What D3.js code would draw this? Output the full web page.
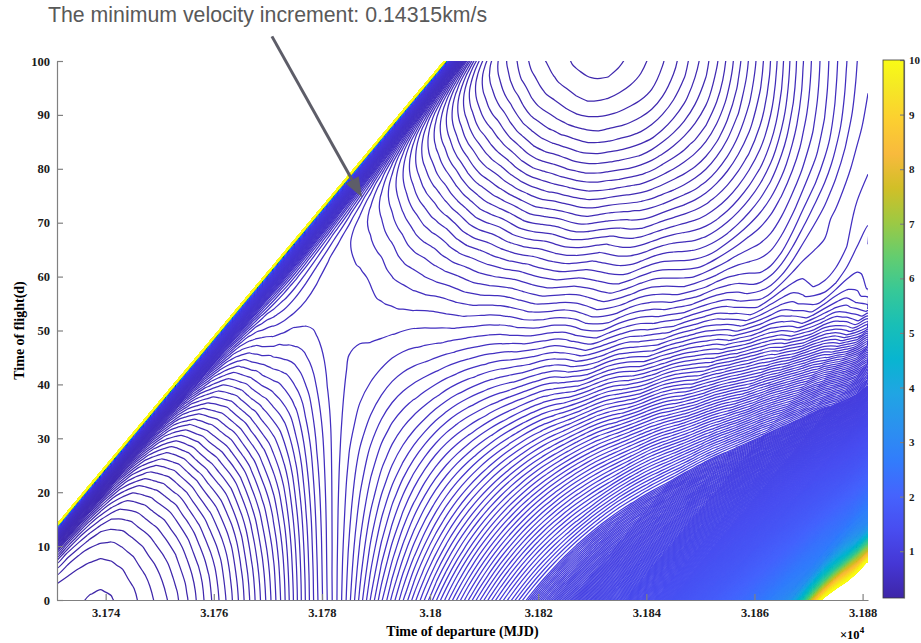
<!DOCTYPE html>
<html>
<head>
<meta charset="utf-8">
<script src="https://cdnjs.cloudflare.com/ajax/libs/d3/7.8.5/d3.min.js"></script>
<style>
  body { margin: 0; background: #fff; }
  svg text { font-family: "Liberation Serif", "Times New Roman", serif; font-weight: bold; }
  .axis path, .axis line { stroke: #808080; stroke-width: 1.2; }
  .axis text { fill: #1a1a1a; font-size: 12.5px; }
  .cbar text { font-size: 11px; }
</style>
</head>
<body>
<div id="chart"></div>
<script>
// departure epochs of the grid columns (MJD)
const depGrid = [31731, 31741, 31751, 31761, 31771, 31781, 31791, 31801,
  31811, 31821, 31831, 31841, 31851, 31861, 31871, 31881]

// grid rows: days of flight below the reachable edge (edge = row 0)
const tofBelowEdge = [0, 0.3, 0.6, 1.2, 2, 3.2, 5, 7.5, 11, 16, 23, 32, 43, 56, 70, 85,
  100, 115, 128, 140, 150, 159, 166, 172, 177, 181, 185, 188, 191, 194, 198]

// reachable edge: time of flight at the first departure, growth per day of departure
const edgeTof0 = 14
const edgeRate = 1.2

// velocity increment (km/s), one column per departure epoch
const dvByDeparture = [
  [10.68, 2.68, 1.177, 0.675, 0.472, 0.328, 0.232, 0.181, 0.155, 0.146, 0.150, 0.172, 0.224, 0.322, 0.47, 0.49, 0.51, 0.57, 0.76, 1.23, 2.44, 10.07, 12, 12, 12, 12, 12, 12, 12, 12, 12],
  [10.74, 2.739, 1.237, 0.733, 0.528, 0.380, 0.280, 0.222, 0.185, 0.162, 0.147, 0.144, 0.165, 0.227, 0.339, 0.486, 0.51, 0.565, 0.72, 1.12, 2.07, 6.47, 12, 12, 12, 12, 12, 12, 12, 12, 12],
  [10.85, 2.848, 1.345, 0.840, 0.633, 0.484, 0.379, 0.316, 0.272, 0.238, 0.206, 0.181, 0.172, 0.196, 0.261, 0.377, 0.50, 0.555, 0.69, 1.03, 1.77, 4.47, 12, 12, 12, 12, 12, 12, 12, 12, 12],
  [10.97, 2.967, 1.465, 0.959, 0.753, 0.602, 0.498, 0.433, 0.387, 0.349, 0.310, 0.271, 0.242, 0.235, 0.258, 0.32, 0.45, 0.545, 0.66, 0.94, 1.57, 3.37, 12, 12, 12, 12, 12, 12, 12, 12, 12],
  [10.98, 2.983, 1.483, 0.982, 0.781, 0.640, 0.548, 0.500, 0.476, 0.449, 0.417, 0.383, 0.353, 0.333, 0.330, 0.349, 0.415, 0.514, 0.64, 0.87, 1.40, 2.67, 7.97, 12, 12, 12, 12, 12, 12, 12, 12],
  [10.97, 2.972, 1.472, 0.972, 0.772, 0.632, 0.542, 0.497, 0.476, 0.471, 0.470, 0.466, 0.4615, 0.458, 0.456, 0.456, 0.478, 0.518, 0.61, 0.81, 1.25, 2.22, 5.37, 12, 12, 12, 12, 12, 12, 12, 12],
  [10.93, 2.927, 1.427, 0.928, 0.728, 0.590, 0.502, 0.459, 0.444, 0.446, 0.456, 0.467, 0.485, 0.513, 0.543, 0.580, 0.628, 0.689, 0.789, 0.985, 1.37, 2.19, 4.20, 12, 12, 12, 12, 12, 12, 12, 12],
  [10.84, 2.839, 1.340, 0.840, 0.641, 0.502, 0.415, 0.374, 0.363, 0.370, 0.390, 0.422, 0.460, 0.5065, 0.570, 0.641, 0.724, 0.821, 0.935, 1.14, 1.50, 2.18, 3.56, 8.54, 12, 12, 12, 12, 12, 12, 12],
  [10.77, 2.768, 1.268, 0.767, 0.566, 0.425, 0.335, 0.294, 0.276, 0.279, 0.298, 0.334, 0.391, 0.459, 0.540, 0.644, 0.763, 0.893, 1.03, 1.25, 1.57, 2.16, 3.18, 6.15, 12, 12, 12, 12, 12, 12, 12],
  [10.76, 2.756, 1.255, 0.753, 0.549, 0.405, 0.308, 0.262, 0.235, 0.224, 0.227, 0.248, 0.298, 0.379, 0.465, 0.592, 0.745, 0.908, 1.07, 1.30, 1.60, 2.13, 2.95, 4.86, 11.05, 12, 12, 12, 12, 12, 12],
  [10.81, 2.813, 1.311, 0.807, 0.601, 0.453, 0.352, 0.296, 0.260, 0.234, 0.215, 0.2085, 0.230, 0.292, 0.388, 0.482, 0.668, 0.865, 1.06, 1.30, 1.59, 2.05, 2.73, 4.06, 7.56, 12, 12, 12, 12, 12, 12],
  [10.91, 2.905, 1.403, 0.899, 0.693, 0.545, 0.442, 0.380, 0.338, 0.304, 0.268, 0.237, 0.225, 0.248, 0.316, 0.414, 0.537, 0.764, 0.983, 1.23, 1.52, 1.97, 2.56, 3.52, 5.62, 11.27, 12, 12, 12, 12, 12],
  [10.97, 2.970, 1.469, 0.968, 0.766, 0.622, 0.525, 0.468, 0.4295, 0.396, 0.357, 0.317, 0.281, 0.270, 0.295, 0.357, 0.4455, 0.608, 0.851, 1.12, 1.42, 1.83, 2.36, 3.13, 4.51, 7.68, 12, 12, 12, 12, 12],
  [10.97, 2.97, 1.47, 0.97, 0.77, 0.63, 0.54, 0.495, 0.475, 0.463, 0.4405, 0.407, 0.371, 0.345, 0.340, 0.361, 0.412, 0.480, 0.668, 0.949, 1.26, 1.65, 2.12, 2.76, 3.75, 5.63, 11.3, 12, 12, 12, 12],
  [10.97, 2.97, 1.47, 0.97, 0.77, 0.63, 0.54, 0.495, 0.475, 0.47, 0.47, 0.4625, 0.447, 0.430, 0.420, 0.419, 0.433, 0.472, 0.51, 0.731, 1.04, 1.42, 1.85, 2.42, 3.18, 6.5, 12, 12, 12, 12, 12],
  [10.97, 2.97, 1.47, 0.97, 0.77, 0.63, 0.54, 0.495, 0.475, 0.47, 0.47, 0.47, 0.47, 0.47, 0.47, 0.47, 0.475, 0.485, 0.50, 0.53, 0.783, 1.14, 1.55, 2.07, 2.70, 3.55, 7.5, 11.5, 12, 12, 12]
]

const dvMin = 0.14315
const dvMax = 10
const xTicks = [3.174, 3.176, 3.178, 3.18, 3.182, 3.184, 3.186, 3.188]
const yTicks = [0, 10, 20, 30, 40, 50, 60, 70, 80, 90, 100]
const cbTicks = [1, 2, 3, 4, 5, 6, 7, 8, 9, 10]

// where the annotation arrow points (departure /1e4, time of flight)
const noteDep = 3.17874
const noteTof = 74.7

// parula colour map
const parulaStops = ['#3e26a8', '#4537d5', '#484df0', '#4563fd', '#327cfc', '#2b91ef', '#20a5e3', '#08b5d0',
  '#19bfb6', '#37c897', '#64cd6f', '#9dc943', '#d1bf27', '#f8ba3d', '#fccf30', '#f5e924', '#f9fb15']
const stopPos = [0, 4, 8, 12, 16, 20, 24, 28, 32, 36, 40, 44, 48, 52, 56, 60, 63].map(i => i / 63)
const parula = d3.scaleLinear().domain(stopPos).range(parulaStops).clamp(true)
const color = v => parula((v - dvMin) / (dvMax - dvMin))

const svg = d3.select('#chart').append('svg')
  .attr('width', 921)
  .attr('height', 643)

const x = d3.scaleLinear()
  .domain([depGrid[0] / 1e4, depGrid[depGrid.length - 1] / 1e4])
  .range([57, 868])
const y = d3.scaleLinear().domain([0, 100]).range([600, 61])

const defs = svg.append('defs')
defs.append('clipPath').attr('id', 'plot-clip')
  .append('rect').attr('x', 57).attr('y', 61).attr('width', 811).attr('height', 539)

// smooth the grid for drawing (cubic convolution, like an interpolated contour)
const cubic = (p0, p1, p2, p3, t) =>
  p1 + 0.5 * t * (p2 - p0 + t * (2 * p0 - 5 * p1 + 4 * p2 - p3 + t * (3 * (p1 - p2) + p3 - p0)))

function refine(arr, k) {
  const n = arr.length, out = []
  const at = i => arr[Math.max(0, Math.min(n - 1, i))]
  for (let i = 0; i < n - 1; i++) {
    for (let s = 0; s < k; s++) out.push(cubic(at(i - 1), at(i), at(i + 1), at(i + 2), s / k))
  }
  out.push(arr[n - 1])
  return out
}

const FX = 5, FY = 3
const fineCols = dvByDeparture.map(col => refine(col, FY))
const nyF = fineCols[0].length
const nxF = (depGrid.length - 1) * FX + 1
const values = new Array(nxF * nyF)
for (let j = 0; j < nyF; j++) {
  const row = refine(fineCols.map(c => c[j]), FX)
  for (let i = 0; i < nxF; i++) values[j * nxF + i] = row[i]
}

const colToDep = d3.scaleLinear().domain(d3.range(depGrid.length)).range(depGrid).clamp(true)
const rowToGap = d3.scaleLinear().domain(d3.range(tofBelowEdge.length)).range(tofBelowEdge).clamp(true)

const toPixel = ([cx, cy]) => {
  const dep = colToDep((cx - 0.5) / FX)
  const tof = edgeTof0 + edgeRate * (dep - depGrid[0]) - rowToGap((cy - 0.5) / FY)
  return [x(dep / 1e4), y(tof)]
}

// cut away the parts of a ring that run along the grid border
const onBorder = p => p[0] <= 0 || p[0] >= nxF || p[1] <= 0 || p[1] >= nyF
function pieces(ring) {
  const pts = ring.slice(0, -1)
  const n = pts.length
  let start = -1
  for (let k = 0; k < n; k++) {
    if (onBorder(pts[k]) && onBorder(pts[(k + 1) % n])) { start = k + 1; break }
  }
  if (start < 0) return [{ closed: true, pts }]
  const out = []
  let cur = []
  for (let k = 0; k < n; k++) {
    const a = pts[(start + k) % n], b = pts[(start + k + 1) % n]
    if (onBorder(a) && onBorder(b)) {
      if (cur.length > 1) out.push({ closed: false, pts: cur })
      cur = []
    } else {
      if (!cur.length) cur.push(a)
      cur.push(b)
    }
  }
  if (cur.length > 1) out.push({ closed: false, pts: cur })
  return out
}

// contour levels: 0.01 apart, 0.005 apart in the steep high range
const levels = d3.range(0.145, 0.95, 0.01).concat(d3.range(0.95, dvMax, 0.005))
const contours = d3.contours().size([nxF, nyF]).thresholds(levels)(values)
const lineOpen = d3.line().curve(d3.curveCatmullRom.alpha(0.5))
const lineClosed = d3.line().curve(d3.curveCatmullRomClosed.alpha(0.5))
const fmt = p => [Math.round(p[0] * 10) / 10, Math.round(p[1] * 10) / 10]

svg.append('g')
  .attr('clip-path', 'url(#plot-clip)')
  .selectAll('path')
  .data(contours)
  .join('path')
  .attr('fill', 'none')
  .attr('stroke', d => color(d.value))
  .attr('stroke-width', 1.25)
  .attr('d', d => d.coordinates
    .flatMap(poly => poly.flatMap(pieces))
    .map(p => (p.closed ? lineClosed : lineOpen)(p.pts.map(q => fmt(toPixel(q)))) || '')
    .join(''))

// axes, ticks pointing inward
svg.append('g')
  .attr('class', 'axis')
  .attr('transform', 'translate(0,600)')
  .call(d3.axisBottom(x).tickValues(xTicks).tickFormat(d => d)
    .tickSize(-6).tickSizeOuter(0).tickPadding(8))

svg.append('g')
  .attr('class', 'axis')
  .attr('transform', 'translate(57,0)')
  .call(d3.axisLeft(y).tickValues(yTicks)
    .tickSize(-6).tickSizeOuter(0).tickPadding(7))

svg.append('text')
  .attr('x', 462.5).attr('y', 636)
  .attr('text-anchor', 'middle')
  .style('font-size', '14px')
  .text('Time of departure (MJD)')

const mult = svg.append('text')
  .attr('x', 840).attr('y', 639)
  .style('font-size', '12.5px')
mult.append('tspan').text('×10')
mult.append('tspan').attr('dy', -6).style('font-size', '9px').text('4')

svg.append('text')
  .attr('transform', 'translate(24,330.5) rotate(-90)')
  .attr('text-anchor', 'middle')
  .style('font-size', '14px')
  .text('Time of flight(d)')

// colour bar
const cbScale = d3.scaleLinear().domain([dvMin, dvMax]).range([598, 60])
const grad = defs.append('linearGradient').attr('id', 'parula')
  .attr('x1', 0).attr('y1', 1).attr('x2', 0).attr('y2', 0)
grad.selectAll('stop')
  .data(parulaStops)
  .join('stop')
  .attr('offset', (d, i) => stopPos[i])
  .attr('stop-color', d => d)

svg.append('rect')
  .attr('x', 883).attr('y', 60)
  .attr('width', 21).attr('height', 538)
  .attr('fill', 'url(#parula)')

svg.append('g')
  .attr('class', 'axis cbar')
  .attr('transform', 'translate(904,0)')
  .call(d3.axisRight(cbScale).tickValues(cbTicks)
    .tickSize(-4).tickSizeOuter(0).tickPadding(5))

svg.append('rect')
  .attr('x', 883).attr('y', 60)
  .attr('width', 21).attr('height', 538)
  .attr('fill', 'none')
  .attr('stroke', '#3a3a3a')
  .attr('stroke-width', 0.8)

// annotation
const tip = [x(noteDep), y(noteTof)]
const tail = [tip[0] - 90, tip[1] - 161]
const len = Math.hypot(tip[0] - tail[0], tip[1] - tail[1])
const ux = (tip[0] - tail[0]) / len, uy = (tip[1] - tail[1]) / len
const base = [tip[0] - ux * 20, tip[1] - uy * 20]

svg.append('line')
  .attr('x1', tail[0]).attr('y1', tail[1])
  .attr('x2', base[0]).attr('y2', base[1])
  .attr('stroke', '#5d5d68')
  .attr('stroke-width', 3)

svg.append('path')
  .attr('d', d3.line()([tip,
    [base[0] - uy * 7.5, base[1] + ux * 7.5],
    [base[0] + uy * 7.5, base[1] - ux * 7.5]]) + 'Z')
  .attr('fill', '#5d5d68')

svg.append('text')
  .attr('x', 48).attr('y', 22)
  .style('font-family', '"Liberation Sans", Arial, sans-serif')
  .style('font-weight', 'normal')
  .style('font-size', '21.3px')
  .attr('fill', '#595959')
  .text('The minimum velocity increment: 0.14315km/s')
</script>
</body>
</html>
